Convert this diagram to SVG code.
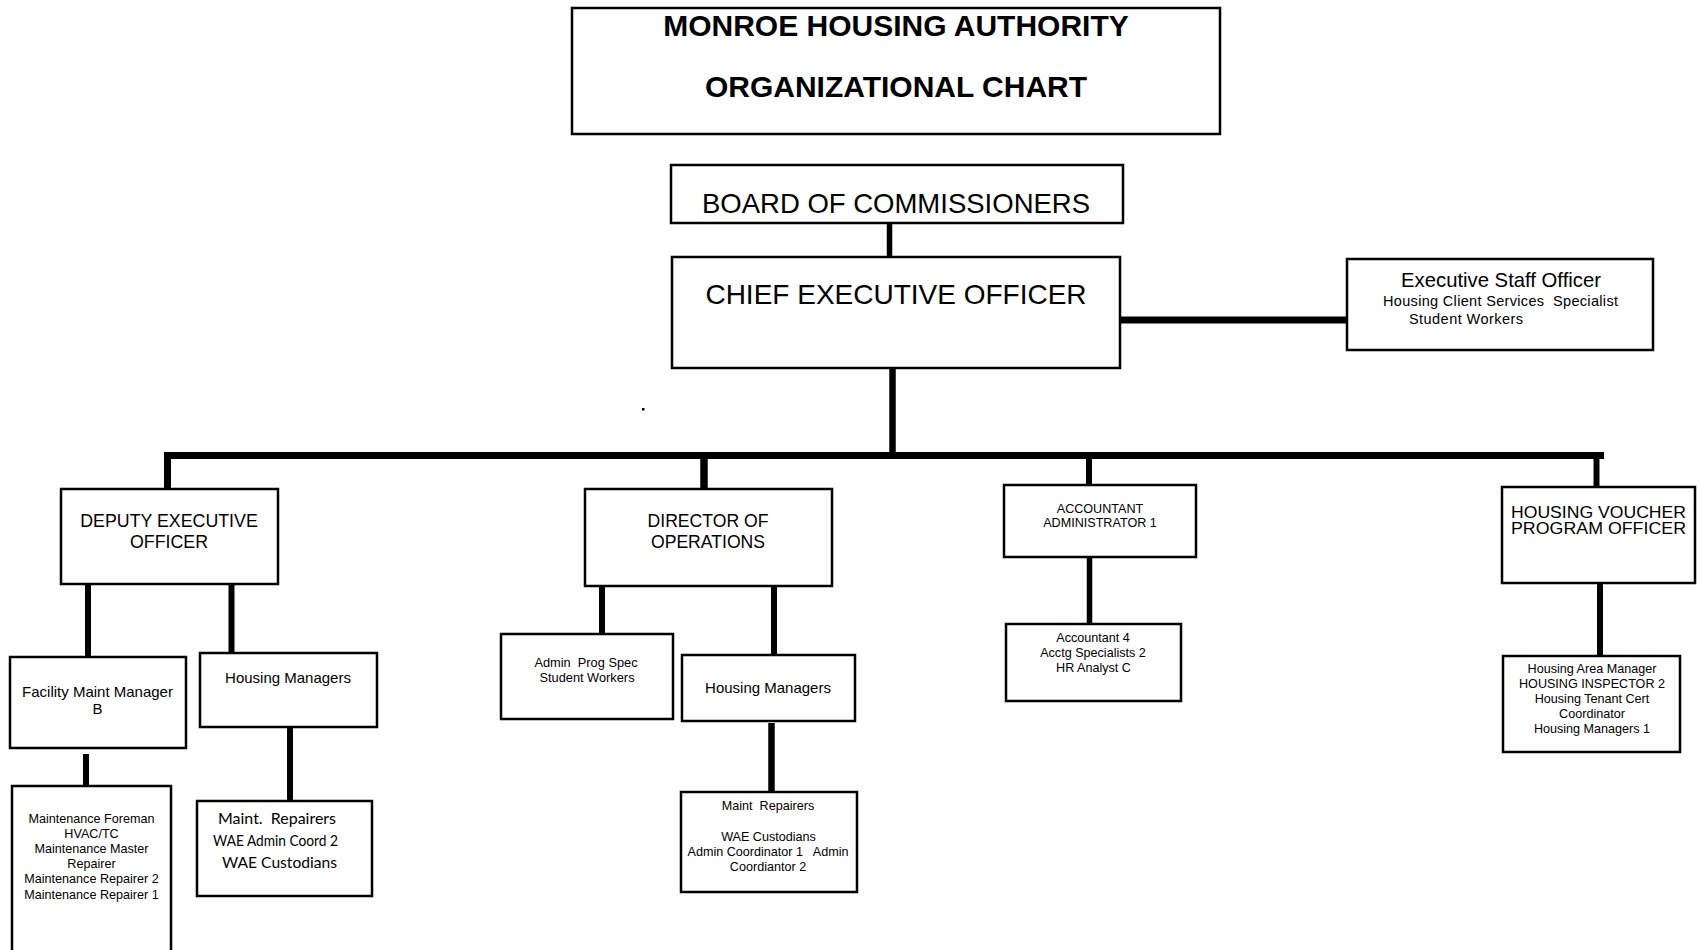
<svg xmlns="http://www.w3.org/2000/svg" width="1699" height="950" viewBox="0 0 1699 950">
<style>
.box{fill:#fff;stroke:#000;stroke-width:2.5}
.con line{stroke:#000;stroke-linecap:butt}
text{white-space:pre}
.t{font-family:"Liberation Sans",Arial,sans-serif;fill:#000;text-anchor:middle}
.b{font-weight:bold}
.c{font-family:Lato,"Liberation Sans",sans-serif;fill:#000}
</style>
<rect width="1699" height="950" fill="#fff"/>
<g id="connectors" class="con">
<line x1="889.5" y1="223" x2="889.5" y2="257" stroke-width="5.5"/>
<line x1="1120" y1="320" x2="1347" y2="320" stroke-width="7"/>
<line x1="892.5" y1="368" x2="892.5" y2="452" stroke-width="6.5"/>
<line x1="164" y1="455.5" x2="1604" y2="455.5" stroke-width="7"/>
<line x1="167.5" y1="452" x2="167.5" y2="489" stroke-width="7"/>
<line x1="704" y1="452" x2="704" y2="489" stroke-width="7.5"/>
<line x1="1089" y1="452" x2="1089" y2="485" stroke-width="6"/>
<line x1="1596.5" y1="452" x2="1596.5" y2="487" stroke-width="6"/>
<line x1="88" y1="582" x2="88" y2="657" stroke-width="6"/>
<line x1="231.5" y1="584" x2="231.5" y2="653" stroke-width="6"/>
<line x1="86" y1="754" x2="86" y2="786" stroke-width="6"/>
<line x1="290" y1="727" x2="290" y2="801" stroke-width="6"/>
<line x1="602" y1="586" x2="602" y2="634" stroke-width="6"/>
<line x1="774" y1="586" x2="774" y2="655" stroke-width="6"/>
<line x1="771.5" y1="723" x2="771.5" y2="792" stroke-width="6.5"/>
<line x1="1089.5" y1="557" x2="1089.5" y2="624" stroke-width="5.5"/>
<line x1="1600" y1="583" x2="1600" y2="656" stroke-width="6"/>
</g>
<rect x="642" y="408" width="2.5" height="2.5" fill="#000"/>
<g id="title">
<rect class="box" x="572" y="8" width="648" height="126" stroke-width="2"/>
<text class="t b" x="896" y="36" font-size="30">MONROE HOUSING AUTHORITY</text>
<text class="t b" x="896" y="97" font-size="30">ORGANIZATIONAL CHART</text>
</g>
<g id="board">
<rect class="box" x="671" y="165" width="452" height="58"/>
<text class="t" x="896" y="213" font-size="27.5">BOARD OF COMMISSIONERS</text>
</g>
<g id="ceo">
<rect class="box" x="672" y="257" width="448" height="111"/>
<text class="t" x="896" y="304" font-size="28">CHIEF EXECUTIVE OFFICER</text>
</g>
<g id="exec-staff">
<rect class="box" x="1347" y="259" width="306" height="91"/>
<text class="t" x="1501" y="287" font-size="20.3">Executive Staff Officer</text>
<text class="t" x="1500.5" y="306" font-size="14.5" textLength="235" lengthAdjust="spacing">Housing Client Services  Specialist</text>
<text class="t" x="1409" y="324" font-size="14.5" style="text-anchor:start" textLength="114" lengthAdjust="spacing">Student Workers</text>
</g>
<g id="deputy">
<rect class="box" x="61" y="489" width="217" height="95"/>
<text class="t" x="169" y="527" font-size="17.8">DEPUTY EXECUTIVE</text>
<text class="t" x="169" y="548" font-size="17.8">OFFICER</text>
</g>
<g id="director">
<rect class="box" x="585" y="489" width="247" height="97"/>
<text class="t" x="708" y="527" font-size="17.6">DIRECTOR OF</text>
<text class="t" x="708" y="548" font-size="17.6">OPERATIONS</text>
</g>
<g id="accountant-admin">
<rect class="box" x="1004" y="485" width="192" height="72"/>
<text class="t" x="1100" y="513" font-size="12.6">ACCOUNTANT</text>
<text class="t" x="1100" y="527" font-size="12.6">ADMINISTRATOR 1</text>
</g>
<g id="voucher">
<rect class="box" x="1502" y="487" width="193" height="96"/>
<text class="t" x="1598.5" y="517.5" font-size="17" textLength="175" lengthAdjust="spacingAndGlyphs">HOUSING VOUCHER</text>
<text class="t" x="1598.5" y="533.5" font-size="17" textLength="175" lengthAdjust="spacingAndGlyphs">PROGRAM OFFICER</text>
</g>
<g id="facility">
<rect class="box" x="10" y="657" width="176" height="91"/>
<text class="t" x="97.5" y="697" font-size="15">Facility Maint Manager</text>
<text class="t" x="97.5" y="714" font-size="15">B</text>
</g>
<g id="housing-managers-dep">
<rect class="box" x="200" y="653" width="177" height="74"/>
<text class="t" x="288" y="683" font-size="15">Housing Managers</text>
</g>
<g id="maintenance">
<rect class="box" x="12" y="786" width="159" height="170"/>
<text class="t" x="91.5" y="823" font-size="12.6">Maintenance Foreman</text>
<text class="t" x="91.5" y="838" font-size="12.6">HVAC/TC</text>
<text class="t" x="91.5" y="853" font-size="12.6">Maintenance Master</text>
<text class="t" x="91.5" y="868" font-size="12.6">Repairer</text>
<text class="t" x="91.5" y="883" font-size="12.6">Maintenance Repairer 2</text>
<text class="t" x="91.5" y="899" font-size="12.6">Maintenance Repairer 1</text>
</g>
<g id="maint-repairers-dep">
<rect class="box" x="197" y="801" width="175" height="95"/>
<text class="c" x="218" y="824" font-size="16" textLength="118" lengthAdjust="spacingAndGlyphs">Maint.  Repairers</text>
<text class="c" x="213" y="846" font-size="16" textLength="125" lengthAdjust="spacingAndGlyphs">WAE Admin Coord 2</text>
<text class="c" x="222" y="868" font-size="16" textLength="115" lengthAdjust="spacingAndGlyphs">WAE Custodians</text>
</g>
<g id="admin-prog">
<rect class="box" x="501" y="634" width="172" height="85"/>
<text class="t" x="586" y="667" font-size="12.8">Admin  Prog Spec</text>
<text class="t" x="587" y="682" font-size="12.8">Student Workers</text>
</g>
<g id="housing-managers-dir">
<rect class="box" x="682" y="655" width="173" height="66"/>
<text class="t" x="768" y="693" font-size="15">Housing Managers</text>
</g>
<g id="maint-repairers-dir">
<rect class="box" x="681" y="792" width="176" height="100"/>
<text class="t" x="768" y="810" font-size="12.6">Maint  Repairers</text>
<text class="t" x="768.5" y="841" font-size="12.6">WAE Custodians</text>
<text class="t" x="768" y="856" font-size="12.6">Admin Coordinator 1   Admin</text>
<text class="t" x="768" y="871" font-size="12.6">Coordiantor 2</text>
</g>
<g id="accounting-staff">
<rect class="box" x="1006" y="624" width="175" height="77"/>
<text class="t" x="1093" y="642" font-size="12.6">Accountant 4</text>
<text class="t" x="1093" y="657" font-size="12.6">Acctg Specialists 2</text>
<text class="t" x="1093.5" y="672" font-size="12.6">HR Analyst C</text>
</g>
<g id="voucher-staff">
<rect class="box" x="1503" y="656" width="177" height="96"/>
<text class="t" x="1592" y="673" font-size="12.6">Housing Area Manager</text>
<text class="t" x="1592" y="688" font-size="12.6">HOUSING INSPECTOR 2</text>
<text class="t" x="1592" y="703" font-size="12.6">Housing Tenant Cert</text>
<text class="t" x="1592" y="718" font-size="12.6">Coordinator</text>
<text class="t" x="1592" y="733" font-size="12.6">Housing Managers 1</text>
</g>
</svg>
